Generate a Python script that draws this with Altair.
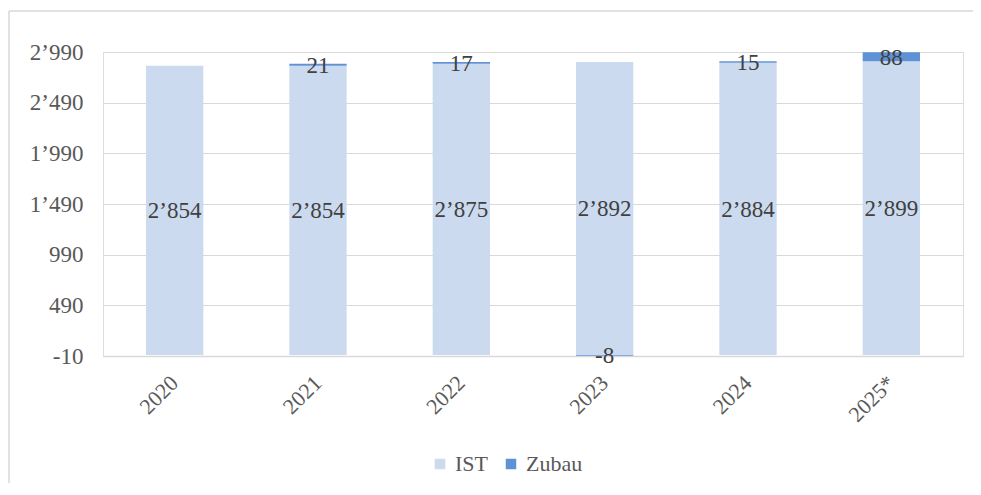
import altair as alt
import pandas as pd

years = ["2020", "2021", "2022", "2023", "2024", "2025*"]
ist = [2854, 2854, 2875, 2892, 2884, 2899]
zubau = [None, 21, 17, -8, 15, 88]
y_ticks = [-10, 490, 990, 1490, 1990, 2490, 2990]

rows = []
for i, y in enumerate(years):
    rows.append({"Jahr": y, "Serie": "IST", "Wert": ist[i], "ord": 0})
    if zubau[i] is not None:
        rows.append({"Jahr": y, "Serie": "Zubau", "Wert": zubau[i], "ord": 1})
df = pd.DataFrame(rows)

FONT = "Liberation Serif"
GRID = "#d9d9d9"
FMT = "replace(replace(format({v}, ','), ',', '’'), '−', '-')"

color = alt.Color("Serie:N",
                  scale=alt.Scale(domain=["IST", "Zubau"], range=["#cbdaef", "#5f91d6"]),
                  legend=alt.Legend(title=None, orient="none", direction="horizontal",
                                    legendX=326, legendY=401, symbolType="square",
                                    symbolSize=110, symbolStrokeWidth=0,
                                    labelFont=FONT, labelFontSize=22, labelColor="#595959",
                                    columnPadding=12, labelOffset=4))

xenc = alt.X("Jahr:N", sort=years,
             scale=alt.Scale(paddingInner=0.6, paddingOuter=0.3),
             axis=alt.Axis(title=None, labelAngle=315, labelAlign="right", labelBaseline="middle",
                           labelPadding=23, ticks=False, domainColor=GRID, domainWidth=1.5,
                           labelFont=FONT, labelFontSize=22, labelColor="#595959"))

base = alt.Chart(df).transform_stack(
    stack="Wert", groupby=["Jahr"], as_=["y0", "y1"], sort=[alt.SortField("ord")]
).transform_calculate(mid="(datum.y0 + datum.y1) / 2")

yscale = alt.Scale(domain=[-10, 2990], nice=False, zero=False)

bars = base.mark_bar().encode(
    x=xenc,
    y=alt.Y("y0:Q", scale=yscale,
            axis=alt.Axis(title=None, values=y_ticks, labelExpr=FMT.format(v="datum.value"),
                          domain=False, ticks=False, labelPadding=20, gridColor=GRID, gridWidth=1.2,
                          labelFont=FONT, labelFontSize=23, labelColor="#595959")),
    y2="y1:Q",
    color=color,
)

labels = base.transform_calculate(
    lbl=FMT.format(v="datum.Wert")
).mark_text(font=FONT, fontSize=23, color="#404040", baseline="middle", dy=1).encode(
    x=alt.X("Jahr:N", sort=years),
    y=alt.Y("mid:Q", scale=yscale),
    text="lbl:N",
)

border_top = alt.Chart(pd.DataFrame({"a": [0]})).mark_rule(color=GRID, strokeWidth=1.5).encode(
    x=alt.value(-94), x2=alt.value(900), y=alt.value(-41))
border_left = alt.Chart(pd.DataFrame({"a": [0]})).mark_rule(color=GRID, strokeWidth=1.5).encode(
    x=alt.value(-94), y=alt.value(-41), y2=alt.value(460))

chart = alt.layer(border_top, border_left, bars, labels).properties(
    width=860, height=304,
    autosize=alt.AutoSizeParams(type="none"),
    padding={"left": 95, "top": 44, "right": 10, "bottom": 127},
).configure_view(stroke=None).configure(background="white")

chart.save("out.html", embed_options={"renderer": "svg", "actions": False})
